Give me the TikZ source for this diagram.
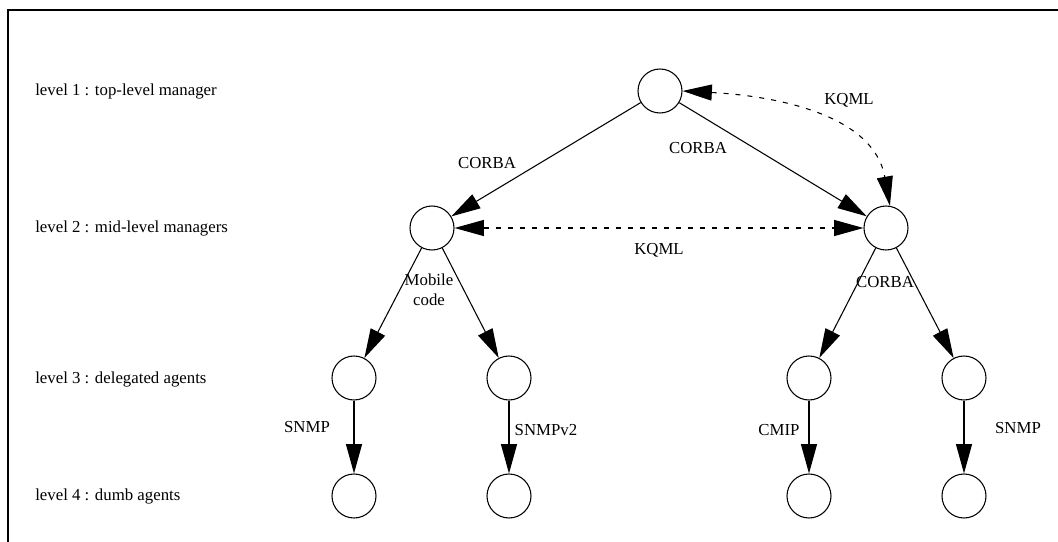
\documentclass[tikz,border=0pt]{standalone}
\usepackage{fontspec}
\setmainfont{Liberation Serif}
\usetikzlibrary{arrows.meta}

\tikzstyle{agent} = [
    circle,
    minimum size=33pt,
    inner sep=0pt,
    draw=black,
    line width=0.8pt,
]
\tikzstyle{levelstyle} = [
    anchor=west,
    inner sep=0pt,
    font=\fontsize{12.6}{15}\selectfont,
]
\tikzstyle{textstyle} = [
    align=center,
    inner sep=0pt,
    font=\fontsize{12.6}{15}\selectfont,
]
\tikzstyle{arrow} = [
    line width=0.8pt,
    -{Triangle[length=22pt,width=12pt]}
]
\tikzstyle{kqml} = [
    line width=0.8pt,
    dash pattern=on 3.75pt off 5.25pt,
    {Triangle[length=22pt,width=12pt]}-{Triangle[length=22pt,width=12pt]}
]

\begin{document}
\begin{tikzpicture}[x=0.75pt,y=-0.75pt]
        \useasboundingbox (0,0) rectangle (1058,542);
        \draw [line width=1.1pt] (8,542) -- (8,10) -- (1058,10);
        %% levels
        \node (lev1) [levelstyle] at (35,91) {level 1 : top-level manager};
        \node (lev2) [levelstyle] at (35,228) {level 2 : mid-level managers};
        \node (lev3) [levelstyle] at (35,379) {level 3 : delegated agents};
        \node (lev4) [levelstyle] at (35,496) {level 4 : dumb agents};
        %% agents
        \node (top) [agent] at (660,91) {};
        \node (midL) [agent] at (432,228) {};
        \node (midR) [agent] at (886,228) {};
        \node (del1) [agent] at (354,378) {};
        \node (del2) [agent] at (509,378) {};
        \node (del3) [agent] at (809,378) {};
        \node (del4) [agent] at (964,378) {};
        \node (dumb1) [agent] at (354,496) {};
        \node (dumb2) [agent] at (509,496) {};
        \node (dumb3) [agent] at (809,496) {};
        \node (dumb4) [agent] at (964,496) {};
        %% connectors
        \draw [arrow] (top) -- (midL);
        \draw [arrow] (top) -- (midR);
        \draw [kqml] (top.east) to[out=-3,in=100] (midR.80);
        \draw [kqml] (midL) -- (midR);
        \draw [arrow] (midL) -- (del1);
        \draw [arrow] (midL) -- (del2);
        \draw [arrow] (midR) -- (del3);
        \draw [arrow] (midR) -- (del4);
        \draw [arrow] (del1) -- (dumb1);
        \draw [arrow] (del2) -- (dumb2);
        \draw [arrow] (del3) -- (dumb3);
        \draw [arrow] (del4) -- (dumb4);
        %% labels
        \node (corba1) [textstyle] at (487,163) {CORBA};
        \node (corba2) [textstyle] at (698,148) {CORBA};
        \node (kqml1) [textstyle] at (849,100) {KQML};
        \node (kqml2) [textstyle] at (659,250) {KQML};
        \node (mobile) [textstyle] at (429,290) {Mobile\\code};
        \node (corba3) [textstyle] at (885,282) {CORBA};
        \node (snmp1) [textstyle] at (307,427) {SNMP};
        \node (snmp2) [textstyle] at (546,430) {SNMPv2};
        \node (cmip) [textstyle] at (779,430) {CMIP};
        \node (snmp3) [textstyle] at (1018,428) {SNMP};
    \end{tikzpicture}
\end{document}
